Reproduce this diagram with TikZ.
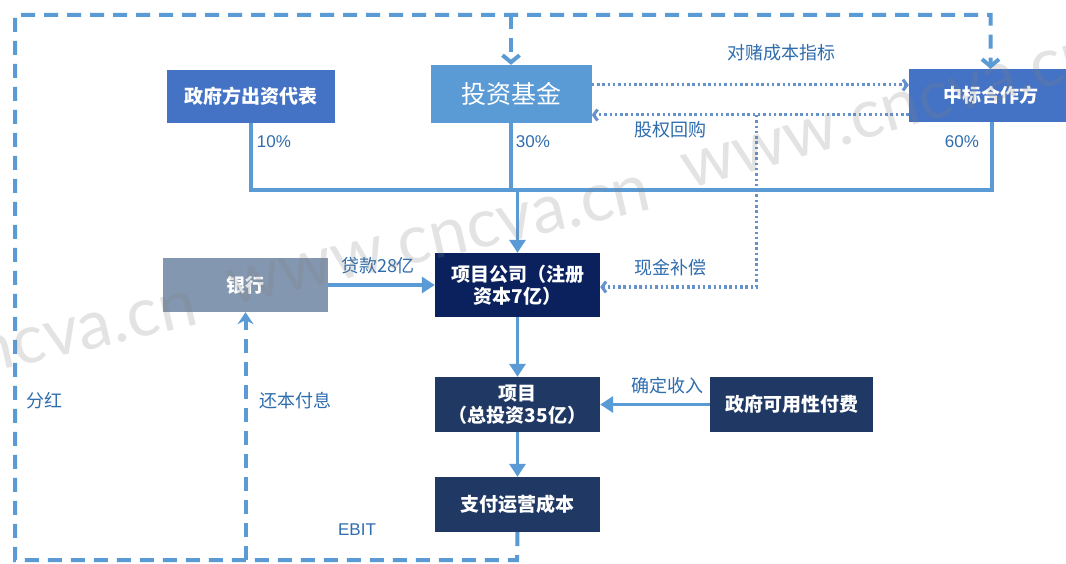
\documentclass[tikz,border=0pt]{standalone}
\usepackage{fontspec}
\setmainfont{Noto Sans CJK SC}
\newfontfamily\wmfont{Lato}
\newfontfamily\latinfont{Liberation Sans}
\usetikzlibrary{arrows.meta}
\definecolor{govblue}{HTML}{4472C4}
\definecolor{fundblue}{HTML}{5B9BD5}
\definecolor{bankgray}{HTML}{8497B0}
\definecolor{conavy}{HTML}{0A215E}
\definecolor{darknavy}{HTML}{1F3864}
\definecolor{lineblue}{HTML}{5B9BD5}
\definecolor{dotblue}{HTML}{6592CC}
\definecolor{lblblue}{HTML}{2F6DAE}
\tikzset{
  box/.style={draw=none, text=white, align=center, inner sep=0pt,
    font=\bfseries\fontsize{19}{22}\selectfont},
  flow/.style={line width=3.2pt, color=lineblue},
  flowarrow/.style={flow, -{Triangle[length=13pt,width=16pt]}},
  loopline/.style={line width=4pt, color=lineblue, dash pattern=on 14pt off 9pt},
  looparrow/.style={loopline, -{Straight Barb[length=7pt,width=17pt]}},
  bankarrow/.style={loopline, -{Stealth[length=12pt,width=16pt,inset=4pt]}},
  dotline/.style={line width=3pt, color=dotblue, dash pattern=on 2.5pt off 2.8pt},
  dotarrow/.style={dotline, -{Straight Barb[length=4pt,width=11pt]}},
  lbl/.style={text=lblblue, inner sep=0pt, font=\fontsize{18}{20}\selectfont},
  pct/.style={text=lblblue, inner sep=0pt, font=\latinfont\fontsize{17}{19}\selectfont},
  wm/.style={text=gray, opacity=0.22, inner sep=0pt, font=\wmfont\fontsize{68}{70}\selectfont}
}
\begin{document}
\begin{tikzpicture}[x=1pt,y=-1pt]
\useasboundingbox (0,0) rectangle (1066,564);
\begin{scope}
\clip (0,0) rectangle (1066,564);
\fill[white] (0,0) rectangle (1066,564);
% boxes
\node[box, fill=govblue, minimum width=168pt, minimum height=53pt] (gov) at (251,96.5) {政府方出资代表};
\node[box, fill=fundblue, minimum width=161pt, minimum height=58pt,
      font=\fontsize{25}{28}\selectfont] (fund) at (511,94) {投资基金};
\node[box, fill=govblue, minimum width=163pt, minimum height=53pt] (win) at (990.5,95.5) {中标合作方};
\node[box, fill=bankgray, minimum width=165pt, minimum height=54pt] (bank) at (245.5,285) {银行};
\node[box, fill=conavy, minimum width=165pt, minimum height=64pt] (co) at (517.5,285) {项目公司（注册\\资本7亿）};
\node[box, fill=darknavy, minimum width=165pt, minimum height=55pt] (proj) at (517.5,404.5) {项目\\（总投资35亿）};
\node[box, fill=darknavy, minimum width=163pt, minimum height=55pt] (pay) at (791.5,404.5) {政府可用性付费};
\node[box, fill=darknavy, minimum width=165pt, minimum height=55pt] (ops) at (517.5,504.5) {支付运营成本};

% junctions
\coordinate (bL) at (251,190);
\coordinate (bR) at (992,190);
\coordinate (tap) at (756,115);
\coordinate (tapd) at (756,287);
\coordinate (dB) at (517,560);
\coordinate (dTL) at (15,15);

% equity lines
\draw[flow] (gov.south) -- (bL) -- (bR) -- (bR |- win.south);
\draw[flow] (fund.south) -- (fund.south |- bL);
\draw[flowarrow] (co.north |- bL) -- (co.north);
\draw[flowarrow] (bank.east) -- (co.west);
\draw[flowarrow] (co.south) -- (proj.north);
\draw[flowarrow] (pay.west) -- (proj.east);
\draw[flowarrow] (proj.south) -- (ops.north);

% dotted
\draw[dotarrow] (fund.east |- 0,85) -- (win.west |- 0,85);
\draw[dotarrow] (win.west |- 0,115) -- (fund.east |- 0,115);
\draw[dotarrow] (tap) -- (tapd) -- (co.east |- tapd);

% dashed loop
\draw[looparrow] (ops.south) -- (dB) -| (dTL) -| (win.north);
\draw[looparrow] (fund.north |- dTL) -- (fund.north);
\draw[bankarrow] (bank.south |- dB) -- (bank.south);

% labels
\node[pct] (p10) at (274,142) {10\%};
\node[pct] (p30) at (533,142) {30\%};
\node[pct] (p60) at (962,142) {60\%};
\node[lbl] (l1) at (781,53) {对赌成本指标};
\node[lbl] (l2) at (670,130) {股权回购};
\node[lbl] (l3) at (670,268) {现金补偿};
\node[lbl] (l4) at (667,386) {确定收入};
\node[lbl] (l5) at (378,266) {贷款28亿};
\node[lbl] (l6) at (44,401) {分红};
\node[lbl] (l7) at (295,401) {还本付息};
\node[pct] (l8) at (357,530) {EBIT};

% watermark
\node[wm, rotate=13, anchor=base east] (w1) at (200,324) {www.cncva.cn};
\node[wm, rotate=13, anchor=base west] (w2) at (232,306) {www.cncva.cn};
\node[wm, rotate=16, anchor=base west] (w3) at (688,190) {www.cncva.cn};
\end{scope}
\end{tikzpicture}
\end{document}
